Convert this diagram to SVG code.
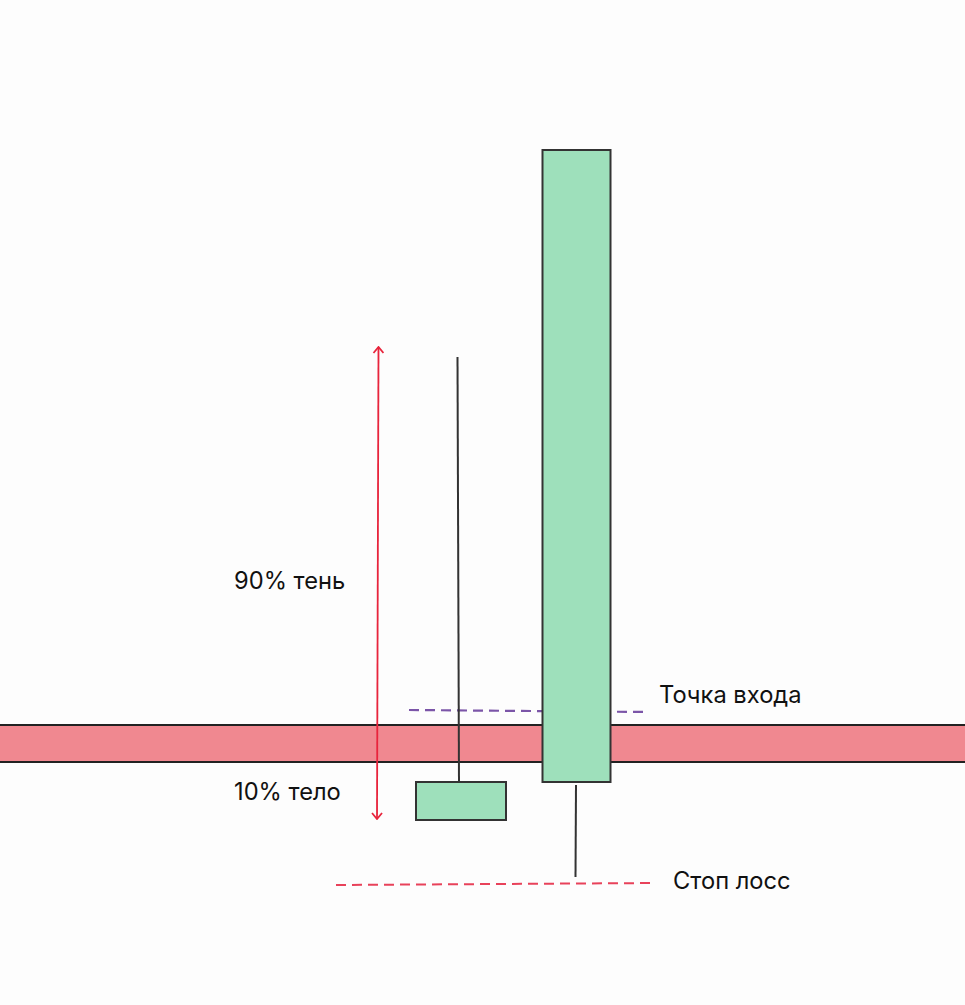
<svg xmlns="http://www.w3.org/2000/svg" width="965" height="1005" viewBox="0 0 965 1005">
<style>
.body{fill:#9ee0bb;stroke:#333;stroke-width:2}
.wick{stroke:#333;stroke-width:2;fill:none}
.lbl{font-family:Inter,"Noto Sans",sans-serif;font-size:23.7px;fill:#111}
</style>
<defs>
<marker id="ah" viewBox="0 0 12 12" refX="11" refY="6" markerWidth="12" markerHeight="12" orient="auto-start-reverse" markerUnits="userSpaceOnUse">
<path d="M5,1 L11,6 L5,11" fill="none" stroke="#e8243c" stroke-width="1.8"/>
</marker>
</defs>
<rect width="965" height="1005" fill="#fdfdfd"/>
<g id="level">
<rect x="-2" y="725" width="970" height="37" fill="#f08890" stroke="#222" stroke-width="2"/>
</g>
<g id="connectors">
<line x1="409" y1="710" x2="648" y2="712" stroke="#7b55a8" stroke-width="2.2" stroke-dasharray="10,6"/>
<line x1="336" y1="885" x2="656" y2="883" stroke="#e8425a" stroke-width="2" stroke-dasharray="10,6"/>
<line x1="378.5" y1="347" x2="377" y2="819" stroke="#e8243c" stroke-width="1.8" marker-start="url(#ah)" marker-end="url(#ah)"/>
</g>
<g id="candle-small">
<line class="wick" x1="457.5" y1="357" x2="459" y2="783"/>
<rect class="body" x="416" y="782" width="90" height="38"/>
</g>
<g id="candle-big">
<line class="wick" x1="576" y1="785" x2="575.5" y2="877"/>
<rect class="body" x="542.5" y="150" width="68" height="632"/>
</g>
<g id="labels">
<text class="lbl" x="234" y="589">90% тень</text>
<text class="lbl" x="234" y="800">10% тело</text>
<text class="lbl" x="659" y="703">Точка входа</text>
<text class="lbl" x="673" y="889">Стоп лосс</text>
</g>
</svg>
